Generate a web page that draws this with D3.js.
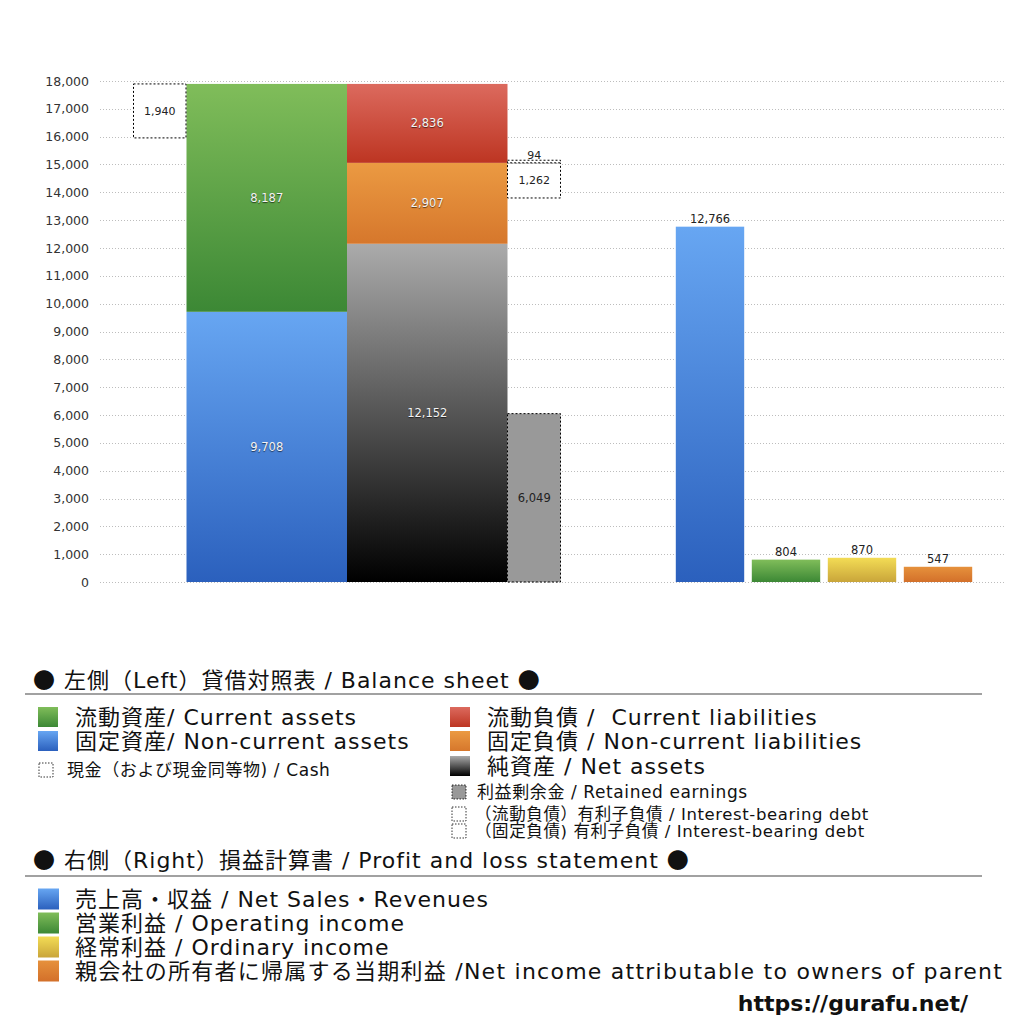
<!DOCTYPE html>
<html>
<head>
<meta charset="utf-8">
<script src="https://cdn.jsdelivr.net/npm/d3@7"></script>
<style>
  body { margin: 0; background: #fff; }
  svg text { font-family: "DejaVu Sans", "Noto Sans CJK JP", sans-serif; white-space: pre; }
  .cjk { font-family: "Noto Sans CJK JP", sans-serif; }
  .inlabel { fill: #f4f4f4; font-size: 11.5px; text-shadow: 0 1px 1px rgba(0,0,0,0.6); }
</style>
</head>
<body>
<div id="chart"></div>
<script>
// --- data ---
const yTicks = d3.range(0, 18001, 1000);
const assetNames = ["固定資産", "流動資産"];
const assetValues = [9708, 8187];
const liabNames = ["純資産", "固定負債", "流動負債"];
const liabValues = [12152, 2907, 2836];
const cashValue = 1940;
const retainedValue = 6049;
const debtNames = ["固定負債 有利子負債", "流動負債 有利子負債"];
const debtValues = [1262, 94];
const plNames = ["売上高", "営業利益", "経常利益", "当期利益"];
const plValues = [12766, 804, 870, 547];

const width = 1024, height = 1024;
const svg = d3.select("#chart").append("svg")
  .attr("width", width).attr("height", height);

const defs = svg.append("defs");
const grads = {
  blue: ["#67a6f2", "#2b60bd"],
  green: ["#80bd5a", "#3c8835"],
  red: ["#dc6a5e", "#bd3522"],
  orange: ["#eb9a42", "#d6772c"],
  black: ["#ababab", "#000000"],
  yellow: ["#f3dc55", "#c9a53a"],
  orange2: ["#e6913c", "#d3702a"]
};
Object.entries(grads).forEach(([k, c]) => {
  const g = defs.append("linearGradient").attr("id", "g-" + k)
    .attr("x1", 0).attr("y1", 0).attr("x2", 0).attr("y2", 1);
  g.append("stop").attr("offset", "0%").attr("stop-color", c[0]);
  g.append("stop").attr("offset", "100%").attr("stop-color", c[1]);
});

const y = d3.scaleLinear().domain([0, 18000]).range([582, 81]);

// grid
svg.append("g").selectAll("line").data(yTicks).enter().append("line")
  .attr("x1", 100).attr("x2", 1005)
  .attr("y1", d => Math.round(y(d)) + 0.5).attr("y2", d => Math.round(y(d)) + 0.5)
  .attr("stroke", "#bdbdbd").attr("stroke-dasharray", "1,2");

const yAxis = svg.append("g").attr("transform", "translate(89,0)")
  .call(d3.axisLeft(y).tickValues(yTicks).tickFormat(d3.format(",")).tickSize(0).tickPadding(0));
yAxis.select(".domain").remove();
yAxis.selectAll("text").attr("font-size", 12.5).attr("fill", "#333")
  .attr("font-family", "'DejaVu Sans', sans-serif");

// left columns: cash | assets | liabilities | retained
const x = d3.scaleLinear().domain([0, 8]).range([133, 561]);
function stack(values) {
  let acc = 0;
  return values.map(v => { const s = { y0: acc, y1: acc + v, v }; acc += v; return s; });
}
const fmt = d3.format(",");

const assetStack = stack(assetValues);
const assetColors = ["blue", "green"];
const ag = svg.append("g");
ag.selectAll("rect").data(assetStack).enter().append("rect")
  .attr("x", x(1)).attr("width", x(4) - x(1))
  .attr("y", d => y(d.y1)).attr("height", d => y(d.y0) - y(d.y1))
  .attr("fill", (d, i) => `url(#g-${assetColors[i]})`);
ag.selectAll("text").data(assetStack).enter().append("text")
  .attr("class", "inlabel").attr("text-anchor", "middle")
  .attr("x", (x(1) + x(4)) / 2).attr("y", d => y((d.y0 + d.y1) / 2) + 4)
  .text(d => fmt(d.v));

const liabStack = stack(liabValues);
const liabColors = ["black", "orange", "red"];
const lg = svg.append("g");
lg.selectAll("rect").data(liabStack).enter().append("rect")
  .attr("x", x(4)).attr("width", x(7) - x(4))
  .attr("y", d => y(d.y1)).attr("height", d => y(d.y0) - y(d.y1))
  .attr("fill", (d, i) => `url(#g-${liabColors[i]})`);
lg.selectAll("text").data(liabStack).enter().append("text")
  .attr("class", "inlabel").attr("text-anchor", "middle")
  .attr("x", (x(4) + x(7)) / 2).attr("y", d => y((d.y0 + d.y1) / 2) + 4)
  .text(d => fmt(d.v));

// cash box: hangs from top of assets
const assetTop = d3.sum(assetValues);
svg.append("rect")
  .attr("x", x(0) + 0.5).attr("width", x(1) - x(0) - 1)
  .attr("y", y(assetTop)).attr("height", y(assetTop - cashValue) - y(assetTop))
  .attr("fill", "#fff").attr("stroke", "#000").attr("stroke-dasharray", "2,2");
svg.append("text").attr("text-anchor", "middle").attr("font-size", 11).attr("fill", "#222")
  .attr("x", (x(0) + x(1)) / 2).attr("y", y(assetTop - cashValue / 2) + 4)
  .text(fmt(cashValue));

// retained earnings
svg.append("rect")
  .attr("x", x(7)).attr("width", x(8) - x(7) - 0.5)
  .attr("y", y(retainedValue)).attr("height", y(0) - y(retainedValue))
  .attr("fill", "#999").attr("stroke", "#000").attr("stroke-dasharray", "2,2");
svg.append("text").attr("text-anchor", "middle").attr("font-size", 11.5).attr("fill", "#222")
  .attr("x", (x(7) + x(8)) / 2).attr("y", y(retainedValue / 2) + 4)
  .text(fmt(retainedValue));

// interest-bearing debt boxes at top of non-current liabilities
const ncTop = liabValues[0] + liabValues[1];
const debtStack = [
  { y0: ncTop - debtValues[0], y1: ncTop, v: debtValues[0] },
  { y0: ncTop, y1: ncTop + debtValues[1], v: debtValues[1] }
];
svg.append("g").selectAll("rect").data(debtStack).enter().append("rect")
  .attr("x", x(7)).attr("width", x(8) - x(7) - 0.5)
  .attr("y", d => y(d.y1)).attr("height", d => y(d.y0) - y(d.y1))
  .attr("fill", "#fff").attr("stroke", "#000").attr("stroke-dasharray", "2,2");
svg.append("text").attr("text-anchor", "middle").attr("font-size", 11).attr("fill", "#222")
  .attr("x", (x(7) + x(8)) / 2).attr("y", y((debtStack[0].y0 + debtStack[0].y1) / 2) + 4)
  .text(fmt(debtValues[0]));
svg.append("text").attr("text-anchor", "middle").attr("font-size", 11).attr("fill", "#222")
  .attr("x", (x(7) + x(8)) / 2).attr("y", y(debtStack[1].y1) - 1)
  .text(fmt(debtValues[1]));

// right: profit and loss
const xb = d3.scaleBand().domain(plNames).range([672, 976]).paddingInner(0.1).paddingOuter(0.05);
const plColors = ["blue", "green", "yellow", "orange2"];
const pg = svg.append("g");
pg.selectAll("rect").data(plValues).enter().append("rect")
  .attr("x", (d, i) => xb(plNames[i])).attr("width", xb.bandwidth())
  .attr("y", d => y(d)).attr("height", d => y(0) - y(d))
  .attr("fill", (d, i) => `url(#g-${plColors[i]})`);
pg.selectAll("text").data(plValues).enter().append("text")
  .attr("text-anchor", "middle").attr("font-size", 11.5).attr("fill", "#222")
  .attr("x", (d, i) => xb(plNames[i]) + xb.bandwidth() / 2)
  .attr("y", d => y(d) - 4)
  .text(d => fmt(d));

// --- legend ---
const leg = svg.append("g");
function header(ty, txt, ly) {
  const t = leg.append("text").attr("x", 33).attr("y", ty).attr("font-size", 22)
    .attr("letter-spacing", 1).attr("fill", "#111");
  const parts = txt.split("●");
  parts.forEach((p, i) => {
    if (i > 0) t.append("tspan").attr("class", "cjk").text("●");
    t.append("tspan").text(p);
  });
  leg.append("line").attr("x1", 25).attr("x2", 982).attr("y1", ly).attr("y2", ly)
    .attr("stroke", "#444").attr("stroke-width", 1.2);
}
function item(sx, ty, size, fill, dashed, txt, fs, tx, ls) {
  leg.append("rect").attr("x", sx).attr("y", ty - size / 2).attr("width", size).attr("height", size)
    .attr("fill", fill).attr("stroke", dashed ? "#000" : "none")
    .attr("stroke-dasharray", dashed ? "1.5,1.5" : null).attr("stroke-width", 0.8);
  leg.append("text").attr("x", tx).attr("y", ty + fs * 0.36).attr("font-size", fs)
    .attr("letter-spacing", ls).attr("fill", "#111").text(txt);
}
header(688, "● 左側（Left）貸借対照表 / Balance sheet ●", 694);
item(38, 717, 20, "url(#g-green)", false, "流動資産/ Current assets", 22, 75, 1);
item(38, 741, 20, "url(#g-blue)", false, "固定資産/ Non-current assets", 22, 75, 1);
item(39, 770, 14, "#fff", true, "現金（および現金同等物) / Cash", 17, 67, 0.6);
item(450, 717, 20, "url(#g-red)", false, "流動負債 /  Current liabilities", 22, 487, 1);
item(450, 741, 20, "url(#g-orange)", false, "固定負債 / Non-current liabilities", 22, 487, 1);
item(450, 766, 20, "url(#g-black)", false, "純資産 / Net assets", 22, 487, 1);
item(452, 792, 14, "#999", true, "利益剰余金 / Retained earnings", 17, 477, 0.6);
item(452, 814, 14, "#fff", true, "（流動負債）有利子負債 / Interest-bearing debt", 16.5, 475, 0.6);
item(452, 831, 14, "#fff", true, "（固定負債) 有利子負債 / Interest-bearing debt", 16.5, 475, 0.6);

header(868, "● 右側（Right）損益計算書 / Profit and loss statement ●", 876);
item(38, 899, 21, "url(#g-blue)", false, "売上高・収益 / Net Sales・Revenues", 22, 75, 1);
item(38, 923, 21, "url(#g-green)", false, "営業利益 / Operating income", 22, 75, 1);
item(38, 947, 21, "url(#g-yellow)", false, "経常利益 / Ordinary income", 22, 75, 1);
item(38, 971, 21, "url(#g-orange2)", false, "親会社の所有者に帰属する当期利益 /Net income attributable to owners of parent", 22, 75, 1.25);

svg.append("text").attr("x", 968).attr("y", 1011).attr("text-anchor", "end")
  .attr("font-size", 22).attr("font-weight", "bold").attr("fill", "#111")
  .attr("font-family", "'DejaVu Sans', sans-serif")
  .text("https://gurafu.net/");
</script>
</body>
</html>
